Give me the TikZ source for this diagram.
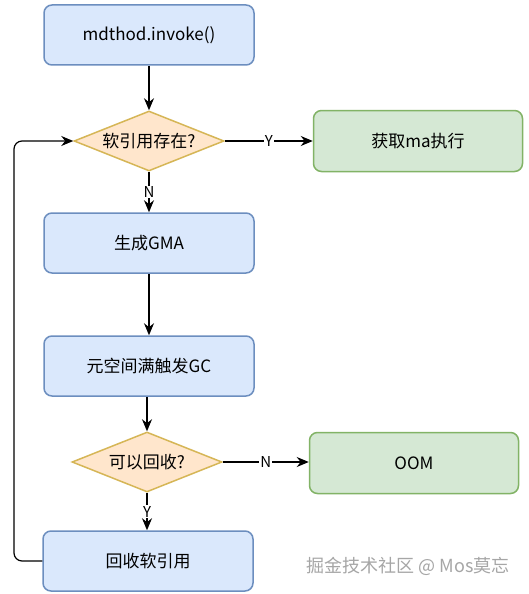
\documentclass[tikz,border=0pt]{standalone}
\usepackage{fontspec}
\setmainfont{Noto Sans CJK SC}
\usetikzlibrary{shapes.geometric,arrows.meta}
\definecolor{bluefill}{HTML}{DAE8FC}
\definecolor{bluedraw}{HTML}{6C8EBF}
\definecolor{orfill}{HTML}{FFE6CC}
\definecolor{ordraw}{HTML}{D6B656}
\definecolor{grfill}{HTML}{D5E8D4}
\definecolor{grdraw}{HTML}{82B366}
\tikzset{
  blubox/.style={draw=bluedraw, fill=bluefill, line width=1.5pt, rounded corners=8pt, minimum width=210pt, minimum height=60pt, font=\fontsize{17}{20}\selectfont},
  grnbox/.style={draw=grdraw, fill=grfill, line width=1.5pt, rounded corners=8pt, minimum width=209pt, minimum height=61pt, font=\fontsize{17}{20}\selectfont},
  decide/.style={draw=ordraw, fill=orfill, line width=1.5pt, diamond, aspect=2.5, minimum width=150pt, minimum height=60pt, inner sep=0pt, font=\fontsize{17}{20}\selectfont},
  conn/.style={draw=black, line width=1.2pt, -{Stealth[length=12pt,width=10pt]}},
  lbl/.style={fill=white, inner sep=1pt, font=\fontsize{15}{17}\selectfont}
}
\begin{document}
\begin{tikzpicture}[x=1pt,y=-1pt]
\useasboundingbox[fill=white] (0,0) rectangle (528,594);
\node[blubox] (invoke) at (149,35) {mdthod.invoke()};
\node[decide] (exist) at (149,141) {软引用存在?};
\node[grnbox] (exec) at (418,141) {获取ma执行};
\node[blubox] (gen) at (149,243) {生成GMA};
\node[blubox] (gc) at (149,366) {元空间满触发GC};
\node[decide] (can) at (147,462) {可以回收?};
\node[grnbox] (oom) at (414,463) {OOM};
\node[blubox] (rec) at (148,561) {回收软引用};
\node[text=gray!70, font=\fontsize{18}{21}\selectfont] (wm) at (408,566) {掘金技术社区 @ Mos莫忘};

\draw[conn] (invoke) -- (exist);
\draw[conn] (exist) -- node[lbl]{Y} (exec);
\draw[conn] (exist) -- node[lbl]{N} (gen);
\draw[conn] (gen) -- (gc);
\draw[conn] (gc.south -| can.north) -- (can.north);
\draw[conn] (can.east) -- node[lbl]{N} (oom.west |- can.east);
\draw[conn] (can.south) -- node[lbl]{Y} (rec.north -| can.south);
\draw[conn, rounded corners=8pt] (rec.west) -- (14,561) -- (14,141) -- (exist.west);
\end{tikzpicture}
\end{document}
